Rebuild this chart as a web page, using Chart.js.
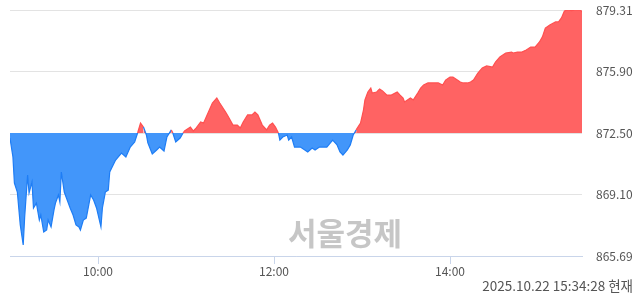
<!DOCTYPE html>
<html>
<head>
<meta charset="utf-8">
<script src="https://cdn.jsdelivr.net/npm/chart.js@4"></script>
<style>
  html, body { margin: 0; padding: 0; background: #fff; }
  #wrap { width: 640px; height: 294px; position: relative; }
</style>
</head>
<body>
<div id="wrap"><canvas id="chart" width="640" height="294"></canvas></div>
<script>
// intraday index, prior close = 872.50
const times = [
  "09:00","09:02","09:03","09:05","09:07","09:09","09:10","09:12","09:13","09:15",
  "09:16","09:18","09:20","09:21","09:23","09:25","09:26","09:28","09:30","09:31",
  "09:33","09:34","09:35","09:37","09:39","09:41","09:43","09:45","09:47","09:48",
  "09:50","09:52","09:55","09:57","09:59","10:02","10:03","10:05","10:07","10:08",
  "10:12","10:16","10:19","10:22","10:25","10:27","10:29","10:31","10:33","10:34",
  "10:37","10:40","10:42","10:45","10:47","10:50","10:51","10:53","10:56","10:58",
  "10:59","11:03","11:05","11:07","11:10","11:12","11:15","11:18","11:21","11:23",
  "11:27","11:29","11:32","11:35","11:37","11:39","11:42","11:45","11:47","11:49",
  "11:52","11:55","11:57","11:59","12:01","12:03","12:04","12:06","12:09","12:10",
  "12:12","12:14","12:18","12:23","12:26","12:28","12:31","12:36","12:40","12:43",
  "12:45","12:47","12:50","12:52","12:54","12:56","12:59","13:01","13:02","13:04",
  "13:06","13:07","13:10","13:12","13:14","13:17","13:20","13:24","13:26","13:28",
  "13:29","13:31","13:33","13:35","13:38","13:40","13:42","13:45","13:47","13:50",
  "13:52","13:55","13:57","14:00","14:02","14:05","14:07","14:09","14:12","14:14",
  "14:16","14:19","14:22","14:25","14:29","14:31","14:34","14:38","14:42","14:43",
  "14:46","14:49","14:52","14:55","14:58","15:01","15:03","15:05","15:08","15:12",
  "15:14","15:16","15:18","15:20","15:23","15:26","15:29","15:30"
];
const prices = [
  872.22,871.17,869.73,869.23,867.41,866.30,867.85,870.17,869.18,869.79,
  868.35,868.62,867.68,867.96,867.02,867.13,867.68,867.30,868.24,868.62,
  869.07,868.68,870.34,869.23,868.79,868.35,867.96,867.41,867.30,867.13,
  867.68,867.79,869.07,868.79,868.35,867.30,868.35,869.23,869.34,870.34,
  871.00,871.39,871.17,871.72,872.00,872.50,873.05,872.83,872.39,871.95,
  871.34,871.56,871.72,871.50,872.28,872.67,872.50,872.00,872.22,872.50,
  872.61,872.83,872.61,872.78,873.11,873.05,873.61,874.16,874.44,874.16,
  873.66,873.39,872.94,872.94,872.78,873.11,873.50,873.50,873.66,873.50,
  872.94,872.67,872.94,873.05,872.83,872.50,872.11,872.28,872.39,872.11,
  872.28,871.72,871.72,871.45,871.67,871.56,871.72,871.72,872.11,871.84,
  871.45,871.28,871.56,871.84,872.39,872.67,873.05,873.77,874.33,874.77,
  874.99,874.71,874.77,874.94,874.83,874.60,874.60,874.77,874.60,874.44,
  874.22,874.33,874.44,874.33,874.71,874.99,875.16,875.27,875.27,875.27,
  875.27,875.16,875.43,875.60,875.60,875.43,875.32,875.27,875.27,875.32,
  875.43,875.82,876.10,876.21,876.15,876.43,876.71,876.93,876.98,876.93,
  876.98,876.98,877.10,877.26,877.26,877.54,877.82,878.31,878.48,878.65,
  878.65,878.87,879.25,879.31,879.28,879.31,879.31,879.20
];
const baseValue = 872.50;
const yTicks = [865.69, 869.10, 872.50, 875.90, 879.31];
const xTickLabels = ["10:00", "12:00", "14:00"];
const stampText = "2025.10.22 15:34:28 현재";
const watermark = "서울경제";

const toMin = t => {
  const [h, m] = t.split(":").map(Number);
  return (h - 9) * 60 + m;
};

const RED = "rgb(255,99,99)";
const BLUE = "rgb(66,150,250)";
const RED_LINE = "rgb(255,80,80)";
const BLUE_LINE = "rgb(30,125,245)";
const FONT = "'Noto Sans CJK KR', 'DejaVu Sans', sans-serif";

const points = times.map((t, i) => ({ x: toMin(t), y: prices[i] }));

const extras = {
  id: "extras",
  beforeDatasetsDraw(chart) {
    const c = chart.ctx;
    c.save();
    c.font = "bold 31px " + FONT;
    c.fillStyle = "#c6c6c6";
    c.textAlign = "center";
    c.textBaseline = "middle";
    c.fillText(watermark, 345, 233);
    c.restore();
  },
  afterDraw(chart) {
    const c = chart.ctx;
    c.save();
    c.font = "13.5px " + FONT;
    c.fillStyle = "#555";
    c.textAlign = "right";
    c.textBaseline = "middle";
    c.fillText(stampText, 633, 286);
    c.restore();
  }
};

new Chart(document.getElementById("chart").getContext("2d"), {
  type: "line",
  data: {
    datasets: [{
      data: points,
      borderWidth: 1.2,
      pointRadius: 0,
      tension: 0,
      borderColor: BLUE_LINE,
      segment: {
        borderColor: ctx => (ctx.p0.parsed.y >= baseValue && ctx.p1.parsed.y >= baseValue) ? RED_LINE : BLUE_LINE
      },
      fill: { target: { value: baseValue }, above: RED, below: BLUE }
    }]
  },
  options: {
    responsive: false,
    animation: false,
    layout: { padding: { left: 10, top: 10, right: 0, bottom: 0 } },
    plugins: { legend: { display: false }, tooltip: { enabled: false } },
    scales: {
      x: {
        type: "linear",
        min: 0,
        max: 390,
        afterBuildTicks: s => { s.ticks = xTickLabels.map(l => ({ value: toMin(l) })); },
        afterFit: s => { s.height = 38; s.paddingLeft = 0; s.paddingRight = 0; },
        ticks: {
          callback: v => xTickLabels.find(l => toMin(l) === v) || "",
          color: "#555",
          font: { family: FONT, size: 12 },
          padding: 0,
          maxRotation: 0
        },
        grid: { drawOnChartArea: false, drawTicks: true, tickLength: 8, color: "#c9d5ea" },
        border: { color: "#c9d5ea" }
      },
      y: {
        position: "right",
        min: yTicks[0],
        max: yTicks[yTicks.length - 1],
        afterBuildTicks: s => { s.ticks = yTicks.map(v => ({ value: v })); },
        afterFit: s => { s.width = 58; s.paddingTop = 0; s.paddingBottom = 0; },
        ticks: {
          callback: v => v.toFixed(2),
          color: "#555",
          font: { family: FONT, size: 12 },
          padding: 14
        },
        grid: { color: "#e3e3e3", drawTicks: false },
        border: { display: false }
      }
    }
  },
  plugins: [extras]
});
</script>
</body>
</html>
